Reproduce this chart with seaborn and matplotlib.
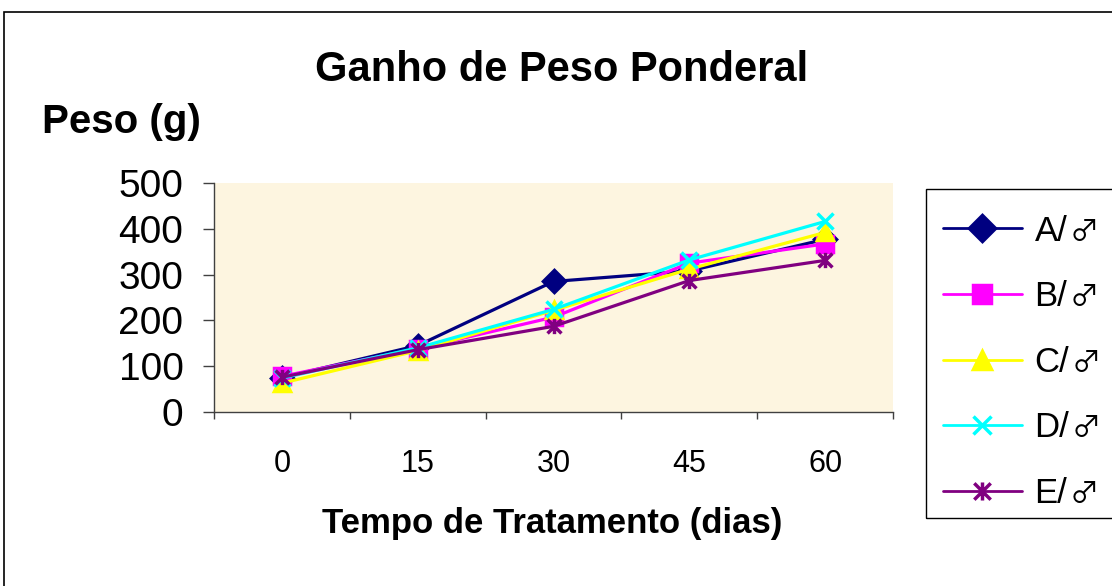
import numpy as np
import pandas as pd
import seaborn as sns
import matplotlib.pyplot as plt
from matplotlib.path import Path
from matplotlib.lines import Line2D
from matplotlib.patches import Rectangle

sns.set_style("white")
plt.rcParams['font.family'] = ['Liberation Sans', 'DejaVu Sans']
plt.rcParams['text.color'] = 'black'
plt.rcParams['axes.labelcolor'] = 'black'
plt.rcParams['xtick.color'] = 'black'
plt.rcParams['ytick.color'] = 'black'

# Data
dias = ["0", "15", "30", "45", "60"]
grupos = ["A/", "B/", "C/", "D/", "E/"]
simbolo = "\u2642"  # male sign after each group name
peso_a = [75, 145, 285, 308, 377]
peso_b = [78, 138, 207, 325, 367]
peso_c = [63, 134, 222, 312, 392]
peso_d = [74, 140, 224, 332, 416]
peso_e = [76, 136, 187, 287, 331]

df = pd.DataFrame({
    "dias": dias * 5,
    "grupo": np.repeat(grupos, len(dias)),
    "peso": peso_a + peso_b + peso_c + peso_d + peso_e,
})

cores = ["#000080", "#FF00FF", "#FFFF00", "#00FFFF", "#800080"]
# star marker: x plus vertical bar
star = Path([(-1, -1), (1, 1), (-1, 1), (1, -1), (0, -1.1), (0, 1.1)],
            [Path.MOVETO, Path.LINETO, Path.MOVETO, Path.LINETO, Path.MOVETO, Path.LINETO])
marcadores = ["D", "s", "^", "x", star]

fig = plt.figure(figsize=(11.12, 5.86), dpi=100)
ax = fig.add_axes([214 / 1112, 1 - 412 / 586, 679 / 1112, 229 / 586])
ax.set_facecolor("#FDF5E0")

sns.pointplot(data=df, x="dias", y="peso", hue="grupo", order=dias, hue_order=grupos,
              palette=cores, markers=marcadores, linestyles="-", errorbar=None,
              markersize=11, linewidth=2.3, markeredgewidth=2.5, legend=False, ax=ax)

ax.set_xlim(-0.5, 4.5)
ax.set_ylim(0, 500)
ax.set_yticks([0, 100, 200, 300, 400, 500])
ax.tick_params(axis="y", labelsize=28, direction="out", length=8, width=1, pad=14, left=True, color="#404040")
ax.tick_params(axis="x", labelsize=22, length=0, pad=27)
ax.set_xticks(np.arange(-0.5, 5, 1), minor=True)
ax.tick_params(axis="x", which="minor", direction="out", length=5, width=1, bottom=True, color="#404040")
for s in ["top", "right"]:
    ax.spines[s].set_visible(False)
for s in ["left", "bottom"]:
    ax.spines[s].set_color("#404040")
    ax.spines[s].set_linewidth(1)

ax.set_xlabel("Tempo de Tratamento (dias)", fontsize=25, fontweight="bold", va="center")
ax.xaxis.set_label_coords((552 - 214) / 679, (412 - 523) / 229)
ax.set_ylabel("Peso (g)", fontsize=29, fontweight="bold", rotation=0, ha="left", va="center")
ax.yaxis.set_label_coords((42 - 214) / 679, (412 - 122) / 229)

fig.text(562 / 1112, 1 - 70 / 586, "Ganho de Peso Ponderal", fontsize=30, fontweight="bold",
         ha="center", va="center")

handles = [Line2D([], [], color=c, marker=m, markersize=13, linewidth=2, markeredgewidth=2.5)
           for c, m in zip(cores, marcadores)]
leg = fig.legend(handles, grupos, loc="upper left", bbox_to_anchor=(921 / 1112, 1 - 193 / 586),
                 fontsize=25, frameon=False, handlelength=2.3, handletextpad=0.35,
                 labelspacing=0.94, borderpad=0.62, borderaxespad=0)

# legend box, running off the right edge like the original
fig.patches.append(Rectangle((926 / 1112, 1 - 518 / 586), 0.2, 329 / 586, transform=fig.transFigure,
                             fill=False, edgecolor="black", linewidth=1, clip_on=False))

# outer chart border (runs off the right and bottom edges)
fig.patches.append(Rectangle((4 / 1112, -0.2), 1.2, 1.2 - 12 / 586, transform=fig.transFigure,
                             fill=False, edgecolor="black", linewidth=1.2, clip_on=False))

# male sign drawn in a thin CJK font just after each legend label
fig.canvas.draw()
inv = fig.transFigure.inverted()
for t in leg.get_texts():
    bb = t.get_window_extent()
    base = t.get_transform().transform((0, 0))
    x, y = inv.transform((bb.x1 + 2, base[1]))
    fig.text(x, y, simbolo, fontsize=21, family=["Noto Sans CJK JP", "DejaVu Sans"],
             ha="left", va="baseline")

fig.savefig("out.png", dpi=100)
